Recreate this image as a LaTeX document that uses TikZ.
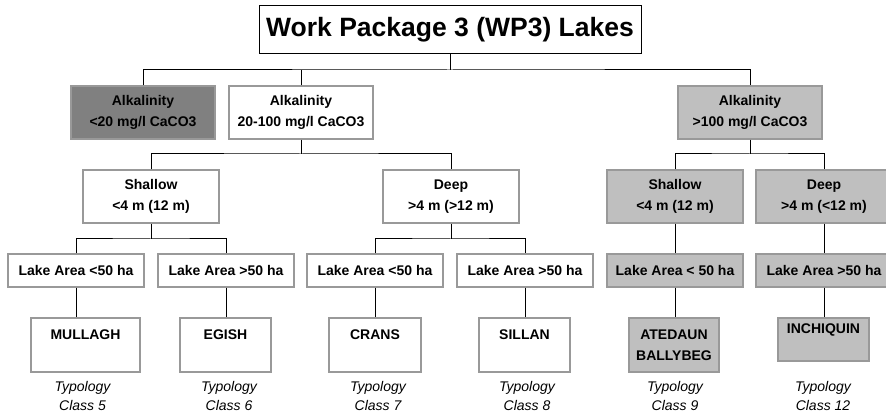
\documentclass[tikz,border=0pt]{standalone}
\usepackage{fontspec}
\setmainfont{Liberation Sans}
\begin{document}
\begin{tikzpicture}[x=1pt,y=-1pt,
  box/.style={draw=black!40, line width=1.3pt, rectangle, inner sep=0pt, align=center,
    font=\fontsize{14}{21}\selectfont\bfseries, text=black},
  alk/.style={box, minimum width=144pt, minimum height=53pt},
  mid/.style={box, minimum width=136pt, minimum height=53pt},
  area/.style={box, minimum width=136pt, minimum height=33pt},
  lake/.style={box, minimum height=54pt},
  dark/.style={fill=black!50},
  light/.style={fill=black!25},
  typ/.style={align=center, inner sep=0pt, font=\fontsize{14}{19}\selectfont\itshape},
  conn/.style={draw=black, line width=1pt}]
\useasboundingbox (0,0) rectangle (886,419);
\fill[white] (0,0) rectangle (886,419);
% title
\node[draw=black, line width=1pt, minimum width=382pt, minimum height=48pt, inner sep=0pt,
  font=\fontsize{26.5}{30}\selectfont\bfseries] (title) at (450,30) {Work Package 3 (WP3) Lakes};
% level 1
\node[alk, dark] (a1) at (143,112.5) {Alkalinity\\<20 mg/l CaCO3};
\node[alk] (a2) at (301,112.5) {Alkalinity\\20-100 mg/l CaCO3};
\node[alk, light] (a3) at (750,112.5) {Alkalinity\\>100 mg/l CaCO3};
% level 2
\node[mid] (sh1) at (151,196.5) {Shallow\\<4 m (12 m)};
\node[mid] (dp1) at (451,196.5) {Deep\\>4 m (>12 m)};
\node[mid, light] (sh2) at (675,196.5) {Shallow\\<4 m (12 m)};
\node[mid, light] (dp2) at (824,196.5) {Deep\\>4 m (<12 m)};
% level 3
\node[area] (la1) at (76,270.5) {Lake Area <50 ha};
\node[area] (la2) at (226,270.5) {Lake Area >50 ha};
\node[area] (la3) at (375,270.5) {Lake Area <50 ha};
\node[area] (la4) at (525,270.5) {Lake Area >50 ha};
\node[area, light] (la5) at (675,270.5) {Lake Area < 50 ha};
\node[area, light] (la6) at (824,270.5) {Lake Area >50 ha};
% level 4
\node[lake, minimum width=109pt] (l1) at (85.5,345) {MULLAGH\\\mbox{}};
\node[lake, minimum width=91pt] (l2) at (225.5,345) {EGISH\\\mbox{}};
\node[lake, minimum width=92pt] (l3) at (375,345) {CRANS\\\mbox{}};
\node[lake, minimum width=91pt] (l4) at (524.5,345) {SILLAN\\\mbox{}};
\node[lake, light, minimum width=90pt] (l5) at (674,345) {ATEDAUN\\BALLYBEG};
\node[lake, light, minimum width=91pt, minimum height=43pt] (l6) at (823.5,339.5) {INCHIQUIN\\\mbox{}};
% typology labels
\node[typ] (t5) at (82.5,396) {Typology\\Class 5};
\node[typ] (t6) at (229,396) {Typology\\Class 6};
\node[typ] (t7) at (378,396) {Typology\\Class 7};
\node[typ] (t8) at (527,396) {Typology\\Class 8};
\node[typ] (t9) at (675,396) {Typology\\Class 9};
\node[typ] (t12) at (823,396) {Typology\\Class 12};
% bus coordinates
\coordinate (b1) at (450,70);
\coordinate (b2) at (301,154);
\coordinate (b3) at (750,154);
\coordinate (b4) at (151,239);
\coordinate (b5) at (451,239);
% connectors
\draw[conn] (title.south) -- (b1);
\draw[conn] (a1.north) |- (b1) -| (a3.north);
\draw[conn] (a2.north) -- (a2.north |- b1);
\draw[conn] (a2.south) -- (b2);
\draw[conn] (sh1.north) |- (b2) -| (dp1.north);
\draw[conn] (a3.south) -- (b3);
\draw[conn] (sh2.north) |- (b3) -| (dp2.north);
\draw[conn] (sh1.south) -- (b4);
\draw[conn] (la1.north) |- (b4) -| (la2.north);
\draw[conn] (dp1.south) -- (b5);
\draw[conn] (la3.north) |- (b5) -| (la4.north);
\draw[conn] (sh2.south) -- (la5.north);
\draw[conn] (dp2.south) -- (la6.north);
\draw[conn] (la1.south) -- (la1.south |- l1.north);
\draw[conn] (la2.south) -- (la2.south |- l2.north);
\draw[conn] (la3.south) -- (la3.south |- l3.north);
\draw[conn] (la4.south) -- (la4.south |- l4.north);
\draw[conn] (la5.south) -- (la5.south |- l5.north);
\draw[conn] (la6.south) -- (la6.south |- l6.north);
\end{tikzpicture}
\end{document}
